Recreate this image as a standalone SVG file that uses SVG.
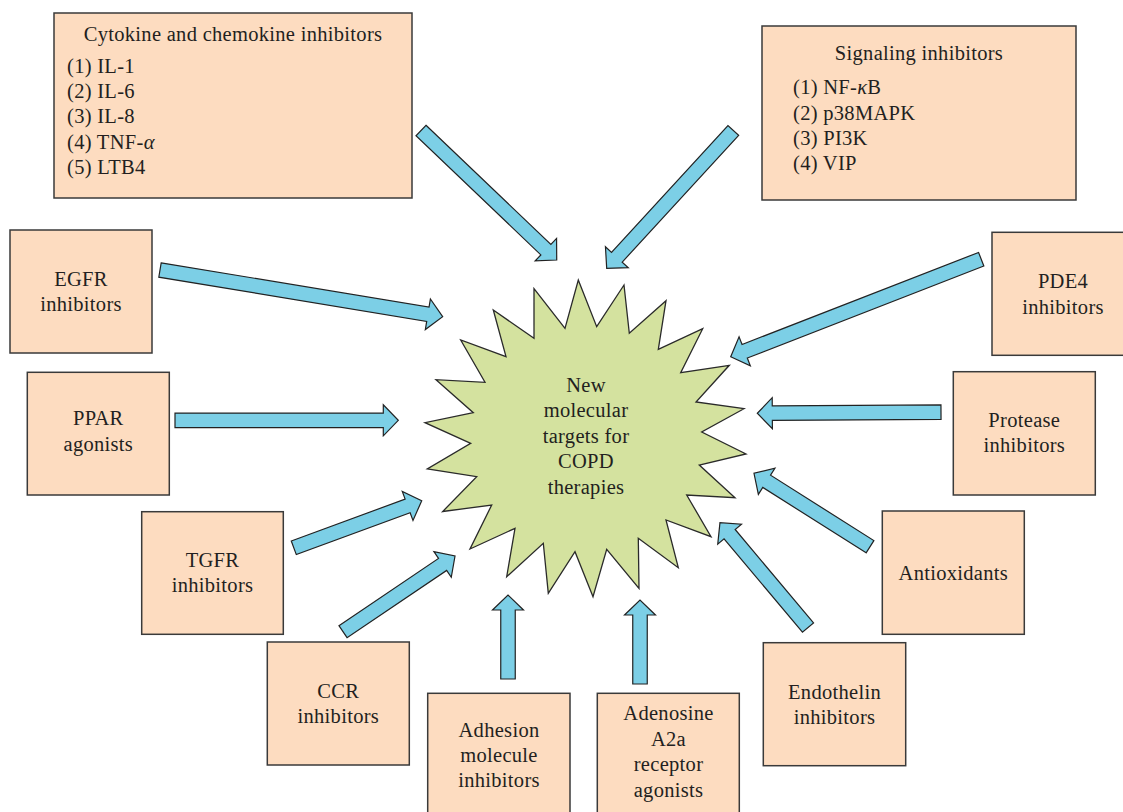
<svg xmlns="http://www.w3.org/2000/svg" width="1123" height="812" viewBox="0 0 1123 812">
<style>
.box{fill:#fddcc0;stroke:#3a3a3a;stroke-width:1.5}
.arr{fill:#7ccfe6;stroke:#222;stroke-width:1.2;stroke-linejoin:miter}
.star{fill:#d4e29f;stroke:#2a2a2a;stroke-width:1.3;stroke-linejoin:miter}
text{font-family:"Liberation Serif","Times New Roman",serif;font-size:20.5px;fill:#231f20;letter-spacing:0.3px}
.c{text-anchor:middle}
</style>
<rect width="1123" height="812" fill="#ffffff"/>
<g id="connectors">
<path class="arr" transform="translate(421,130.5) rotate(43.66)" d="M0,-7.25 H172.6 V-15.5 L187.6,0 L172.6,15.5 V7.25 H0 Z"/>
<path class="arr" transform="translate(733.3,130.5) rotate(132.58)" d="M0,-7.25 H172.1 V-15.5 L187.1,0 L172.1,15.5 V7.25 H0 Z"/>
<path class="arr" transform="translate(160,270) rotate(9.38)" d="M0,-7.25 H271.5 V-15.5 L286.5,0 L271.5,15.5 V7.25 H0 Z"/>
<path class="arr" transform="translate(175,420.3) rotate(0)" d="M0,-7.25 H208.3 V-15.5 L223.3,0 L208.3,15.5 V7.25 H0 Z"/>
<path class="arr" transform="translate(293.8,547.8) rotate(-20.2)" d="M0,-7.25 H121.3 V-15.5 L136.3,0 L121.3,15.5 V7.25 H0 Z"/>
<path class="arr" transform="translate(343,631.7) rotate(-34.05)" d="M0,-7.25 H120.2 V-15.5 L135.2,0 L120.2,15.5 V7.25 H0 Z"/>
<path class="arr" transform="translate(508,679) rotate(-90)" d="M0,-7.25 H69 V-15.5 L84,0 L69,15.5 V7.25 H0 Z"/>
<path class="arr" transform="translate(640,684) rotate(-90)" d="M0,-7.25 H69 V-15.5 L84,0 L69,15.5 V7.25 H0 Z"/>
<path class="arr" transform="translate(981.2,259.2) rotate(158.73)" d="M0,-7.25 H253.8 V-15.5 L268.8,0 L253.8,15.5 V7.25 H0 Z"/>
<path class="arr" transform="translate(941,412.2) rotate(179.66)" d="M0,-7.25 H168.7 V-15.5 L183.7,0 L168.7,15.5 V7.25 H0 Z"/>
<path class="arr" transform="translate(870,546.7) rotate(-147.67)" d="M0,-7.25 H122.3 V-15.5 L137.3,0 L122.3,15.5 V7.25 H0 Z"/>
<path class="arr" transform="translate(808,627.5) rotate(-130.02)" d="M0,-7.25 H121.9 V-15.5 L136.9,0 L121.9,15.5 V7.25 H0 Z"/>
</g>
<g id="center">
<polygon class="star" points="578.3,280 596.7,326.7 624,285 629.3,333.3 666,300.7 658.3,349.3 702.7,328.7 680.7,372.7 729.3,365.3 696,402 744,408.7 701.7,432 746,454 699.3,465 735,497.7 686.7,495 711,536.7 666,520 678.3,567.7 638.3,538.3 639,588.3 606.7,549.3 593,596.7 575,551.7 548.3,593.3 543.3,543.3 506.7,576.7 515,528.3 470,549 491.7,505 442.7,511.5 476.7,476.7 427.3,469 470.7,443.3 425,422.7 473.3,412.7 436,379.7 485,382.3 460.7,340 506,356.7 493.3,310 534,338.3 534,288.7 565,328.3"/>
<text class="c" x="586" y="391.5">New</text>
<text class="c" x="586" y="417">molecular</text>
<text class="c" x="586" y="442.5">targets for</text>
<text class="c" x="586" y="468">COPD</text>
<text class="c" x="586" y="493.5">therapies</text>
</g>
<g id="cytokine">
<rect class="box" x="54" y="13" width="358" height="185"/>
<text class="c" x="233" y="40.7">Cytokine and chemokine inhibitors</text>
<text x="67" y="72.7">(1) IL-1</text>
<text x="67" y="98">(2) IL-6</text>
<text x="67" y="123.3">(3) IL-8</text>
<text x="67" y="148.6">(4) TNF-<tspan font-style="italic">α</tspan></text>
<text x="67" y="173.9">(5) LTB4</text>
</g>
<g id="signaling">
<rect class="box" x="762" y="26" width="314" height="174"/>
<text class="c" x="919" y="60">Signaling inhibitors</text>
<text x="793" y="94.3">(1) NF-<tspan font-style="italic">κ</tspan>B</text>
<text x="793" y="119.6">(2) p38MAPK</text>
<text x="793" y="144.9">(3) PI3K</text>
<text x="793" y="170.2">(4) VIP</text>
</g>
<g id="egfr">
<rect class="box" x="10" y="230" width="142" height="123"/>
<text class="c" x="81" y="285.7">EGFR</text>
<text class="c" x="81" y="311">inhibitors</text>
</g>
<g id="ppar">
<rect class="box" x="27.3" y="372.3" width="142" height="122.7"/>
<text class="c" x="98.3" y="425">PPAR</text>
<text class="c" x="98.3" y="450.5">agonists</text>
</g>
<g id="tgfr">
<rect class="box" x="141.7" y="511.7" width="141.6" height="122.6"/>
<text class="c" x="212.5" y="566.7">TGFR</text>
<text class="c" x="212.5" y="592">inhibitors</text>
</g>
<g id="ccr">
<rect class="box" x="267.3" y="642" width="142" height="123"/>
<text class="c" x="338.3" y="697.7">CCR</text>
<text class="c" x="338.3" y="723">inhibitors</text>
</g>
<g id="adhesion">
<rect class="box" x="427.7" y="693.3" width="142.3" height="140"/>
<text class="c" x="499" y="736.7">Adhesion</text>
<text class="c" x="499" y="762">molecule</text>
<text class="c" x="499" y="787.3">inhibitors</text>
</g>
<g id="adenosine">
<rect class="box" x="597.3" y="693.3" width="142" height="140"/>
<text class="c" x="668.5" y="720">Adenosine</text>
<text class="c" x="668.5" y="745.5">A2a</text>
<text class="c" x="668.5" y="771">receptor</text>
<text class="c" x="668.5" y="796.5">agonists</text>
</g>
<g id="endothelin">
<rect class="box" x="763.3" y="642.7" width="142.4" height="123"/>
<text class="c" x="834.5" y="699">Endothelin</text>
<text class="c" x="834.5" y="724.3">inhibitors</text>
</g>
<g id="antioxidants">
<rect class="box" x="882.3" y="511" width="142" height="123.3"/>
<text class="c" x="953.3" y="580">Antioxidants</text>
</g>
<g id="protease">
<rect class="box" x="953.3" y="371.7" width="142" height="123.3"/>
<text class="c" x="1024.3" y="426.7">Protease</text>
<text class="c" x="1024.3" y="452">inhibitors</text>
</g>
<g id="pde4">
<rect class="box" x="992" y="232.3" width="142" height="123"/>
<text class="c" x="1063" y="288.3">PDE4</text>
<text class="c" x="1063" y="314">inhibitors</text>
</g>
</svg>
